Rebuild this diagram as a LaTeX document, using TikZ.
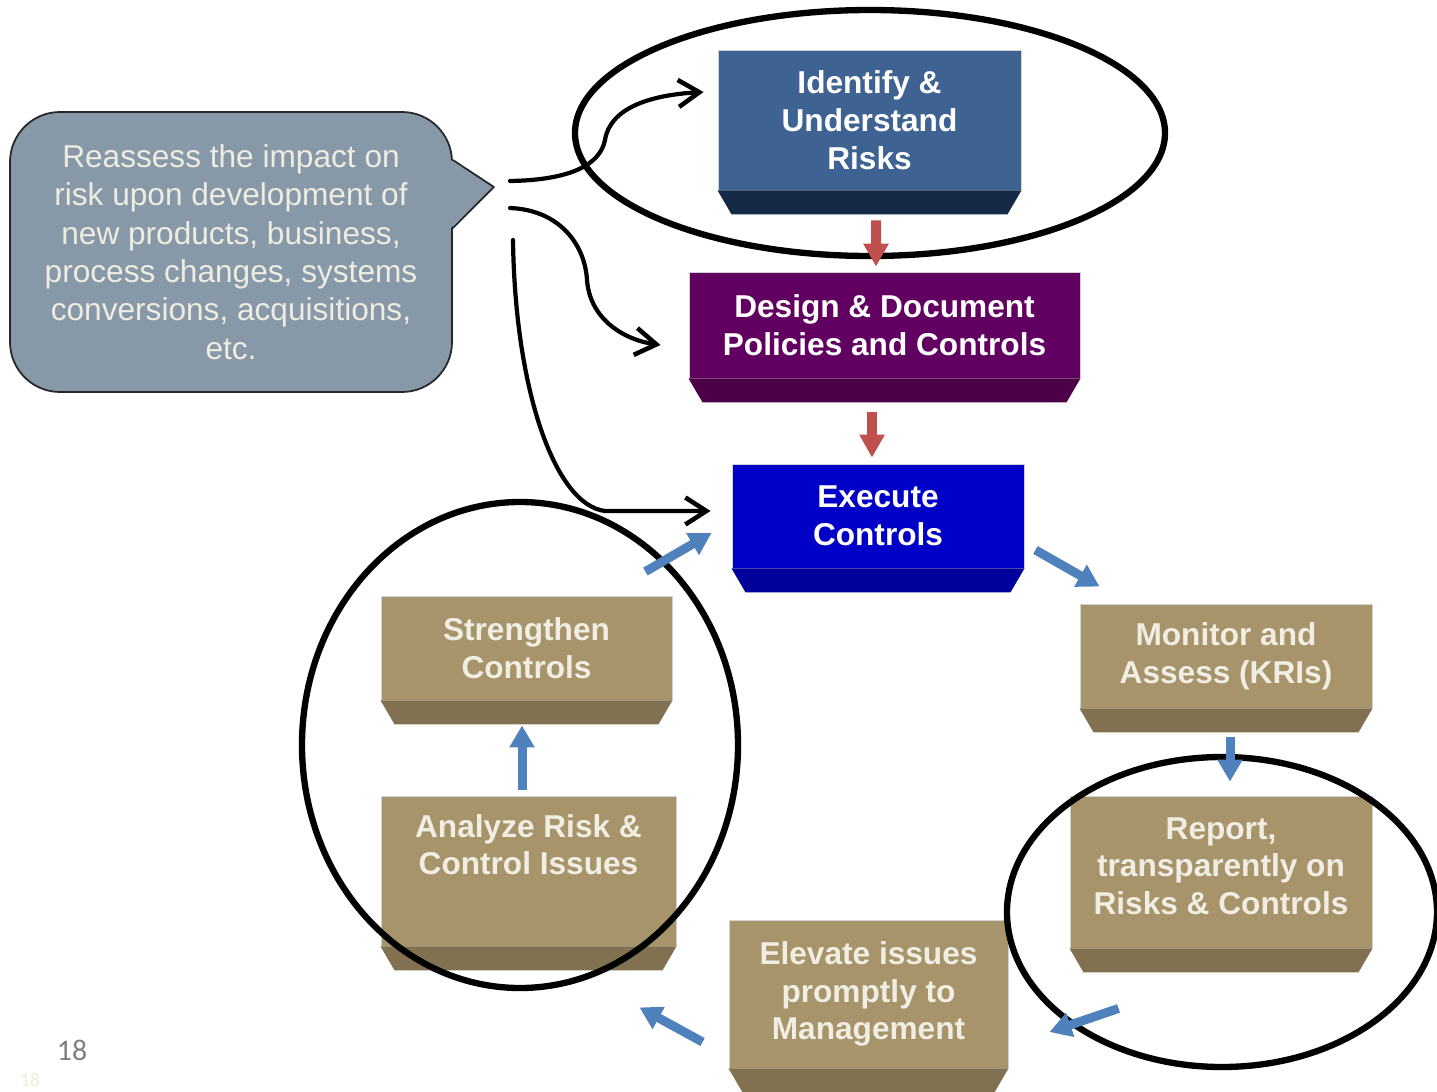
\documentclass[tikz,border=0pt]{standalone}
\usepackage{fontspec}
\setmainfont{Liberation Sans}
\newfontfamily\pagefont{Carlito}
\usetikzlibrary{arrows.meta}

\definecolor{calloutfill}{HTML}{8799A8}
\definecolor{callouttext}{HTML}{EEECE1}
\definecolor{idface}{HTML}{3E6291}
\definecolor{idbevel}{HTML}{152A47}
\definecolor{dsface}{HTML}{610060}
\definecolor{dsbevel}{HTML}{4C0047}
\definecolor{exface}{HTML}{0000C6}
\definecolor{exbevel}{HTML}{00009A}
\definecolor{tanface}{HTML}{A8946A}
\definecolor{tanbevel}{HTML}{817151}
\definecolor{tantext}{HTML}{F0EDE3}
\definecolor{redarrow}{HTML}{C0504D}
\definecolor{bluearrow}{HTML}{4F81BD}
\definecolor{pagegray}{HTML}{808080}
\definecolor{pageghost}{HTML}{F0EAD6}

\begin{document}
\begin{tikzpicture}[x=0.02cm, y=-0.02cm, line join=round,
		stage/.style 2 args={rectangle, minimum width=#1*0.02cm, minimum height=#2*0.02cm,
			inner sep=0pt, align=center, draw=gray!35, line width=0.5pt,
			font=\fontsize{18}{21.5}\selectfont\bfseries},
		tanbox/.style={fill=tanface, text=tantext},
		ring/.style={draw=black, line width=3.6pt},
		feed/.style={draw=black, line width=2.4pt, line cap=round,
			-{Straight Barb[length=0.42cm,width=0.54cm,line width=2.6pt]}},
		redstep/.style={draw=redarrow, line width=0.2cm,
			-{Triangle[width=0.48cm,length=0.46cm]}},
		bluestep/.style={draw=bluearrow, line width=0.18cm,
			-{Triangle[width=0.48cm,length=0.44cm]}}]
	\useasboundingbox (0,0) rectangle (1437,1092);

	% callout
	\node[draw=black!85, line width=1pt, fill=calloutfill, rounded corners=1cm,
		minimum width=442*0.02cm, minimum height=280*0.02cm, inner sep=0pt,
		align=center, text=callouttext, font=\fontsize{18}{21.8}\selectfont]
		(reassess) at (231,252) {Reassess the impact on\\risk upon development of\\new products, business,\\process changes, systems\\conversions, acquisitions,\\etc.};
	\coordinate (tip) at ([shift={(41,-65)}]reassess.east);
	\fill[calloutfill] ([shift={(-2,-92)}]reassess.east) -- (tip)
		-- ([shift={(-2,-24)}]reassess.east) -- cycle;
	\draw[black!85, line width=1pt] ([shift={(0,-92)}]reassess.east) -- (tip)
		-- ([shift={(0,-24)}]reassess.east);

	% stages
	\node[stage={303}{140}, fill=idface, text=white] (identify) at (869.5,120) {Identify \&\\Understand\\Risks};
	\node[stage={391}{106}, fill=dsface, text=white] (design) at (884.5,325) {Design \& Document\\Policies and Controls};
	\node[stage={292}{104}, fill=exface, text=white] (execute) at (878,516) {Execute\\Controls};
	\node[stage={292}{104}, tanbox] (monitor) at (1226,656) {Monitor and\\Assess (KRIs)};
	\node[stage={302}{152}, tanbox] (report) at (1221,872) {Report,\\transparently on\\Risks \& Controls\\[-0.52cm]~};
	\node[stage={279}{148}, tanbox] (elevate) at (868.5,994) {Elevate issues\\promptly to\\Management};
	\node[stage={295}{150}, tanbox] (analyze) at (528.5,871) {Analyze Risk \&\\Control Issues\\[0.3cm]~};
	\node[stage={291}{104}, tanbox] (strengthen) at (526.5,648) {Strengthen\\Controls};

	\foreach \n/\c in {identify/idbevel, design/dsbevel, execute/exbevel, monitor/tanbevel,
		report/tanbevel, elevate/tanbevel, analyze/tanbevel, strengthen/tanbevel} {
		\fill[\c] (\n.south west) -- (\n.south east) -- ([shift={(-14,24)}]\n.south east)
			-- ([shift={(14,24)}]\n.south west) -- cycle;
	}

	% rings
	\draw[ring] (870,133) ellipse [x radius=295, y radius=123];
	\draw[ring] (520,745) ellipse [x radius=218, y radius=243];
	\draw[ring] (1222,912) ellipse [x radius=215, y radius=155];

	% cycle arrows
	\draw[redstep, line cap=butt] ([shift={(6.5,30)}]identify.south) -- ([shift={(-8.5,-5)}]design.north);
	\draw[redstep, line cap=butt] ([shift={(-12.5,34)}]design.south) -- ([shift={(-6,-6)}]execute.north);
	\draw[bluestep] ([shift={(11,34)}]execute.east) -- ([shift={(20,-17)}]monitor.north west);
	\draw[bluestep] ([shift={(4,29)}]monitor.south) -- ([shift={(9,-14)}]report.north);
	\draw[bluestep] ([shift={(49,60)}]report.south west) -- ([shift={(41,38)}]elevate.east);
	\draw[bluestep] ([shift={(-26,48)}]elevate.west) -- ([shift={(-37,61)}]analyze.south east);
	\draw[bluestep] ([shift={(-6.5,-6)}]analyze.north) -- ([shift={(-4.5,25)}]strengthen.south);
	\draw[bluestep] ([shift={(-27,-24)}]strengthen.north east) -- ([shift={(-20,17)}]execute.west);

	% callout arrows
	\coordinate (out1) at (510,181);
	\coordinate (out2) at (510,208);
	\coordinate (out3) at (513,240);
	\draw[feed] (out1) .. controls (570,180) and (600,165) .. (605,140)
		.. controls (610,108) and (650,95) .. ([shift={(-14,-28)}]identify.west);
	\draw[feed] (out2) .. controls (560,210) and (585,245) .. (587,280)
		.. controls (590,320) and (625,340) .. ([shift={(-28,20)}]design.west);
	\draw[feed] (out3) .. controls (515,390) and (555,505) .. (605,511)
		-- ([shift={(-21,-5)}]execute.west);

	% page number
	\node[text=pagegray, font=\pagefont\fontsize{17}{20}\selectfont] (pagenum) at (72,1050) {18};
	\node[text=pageghost, font=\pagefont\fontsize{11}{13}\selectfont, inner sep=1pt] (pageghost) at (30,1080) {18};
\end{tikzpicture}
\end{document}
